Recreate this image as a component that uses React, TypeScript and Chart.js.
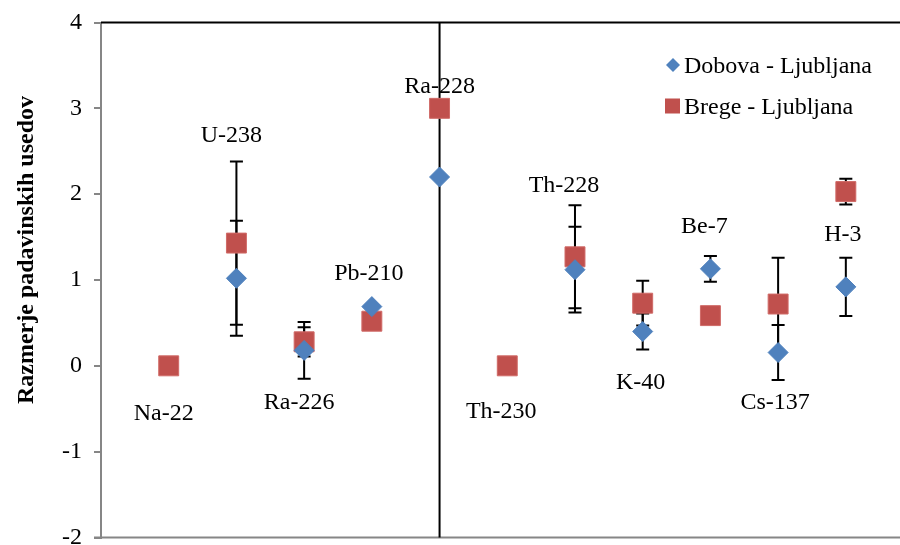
import React, { useEffect, useRef } from "react";
import { Chart, registerables } from "chart.js";

Chart.register(...registerables);

const categories = ["Na-22", "U-238", "Ra-226", "Pb-210", "Ra-228", "Th-230", "Th-228", "K-40", "Be-7", "Cs-137", "H-3"];
const dobova: (number | null)[] = [null, 1.02, 0.18, 0.69, 2.2, null, 1.12, 0.4, 1.13, 0.155, 0.92];
const dobovaErr: (number | null)[] = [null, 0.67, 0.33, null, null, null, 0.5, 0.21, 0.15, 0.32, 0.34];
const brege: (number | null)[] = [0, 1.43, 0.28, 0.52, 3.0, 0, 1.27, 0.73, 0.585, 0.72, 2.03];
const bregeErr: (number | null)[] = [null, 0.95, 0.17, null, null, null, 0.6, 0.26, null, 0.54, 0.15];
// annotation anchors for category labels (value units on y, pixel nudge on x)
const labelY = [-0.54, 2.7, -0.41, 1.09, 3.27, -0.51, 2.12, -0.18, 1.64, -0.41, 1.55];
const labelDx = [-5, -5, -5, -3, 0, -6, -11, -2, -6, -3, -3];
const yTicks = [-2, -1, 0, 1, 2, 3, 4];
const dividerX = 5;

const BLUE = "#4F81BD";
const RED = "#C0504D";
const FONT = "'Liberation Serif', 'Times New Roman', serif";

export default function App() {
  const ref = useRef<HTMLCanvasElement | null>(null);

  useEffect(() => {
    if (!ref.current) return;
    const toPts = (arr: (number | null)[]) =>
      arr
        .map((v, i) => (v == null ? null : { x: i + 1, y: v }))
        .filter((p) => p !== null) as { x: number; y: number }[];

    const custom = {
      id: "custom",
      beforeDatasetsDraw(chart: any) {
        const { ctx, chartArea } = chart;
        const xs = chart.scales.x;
        const ys = chart.scales.y;
        ctx.save();
        // top black border
        ctx.strokeStyle = "#000";
        ctx.lineWidth = 2;
        ctx.beginPath();
        ctx.moveTo(chartArea.left, chartArea.top);
        ctx.lineTo(chartArea.right, chartArea.top);
        ctx.stroke();
        // bottom gray line
        ctx.strokeStyle = "#868686";
        ctx.beginPath();
        ctx.moveTo(chartArea.left - 7, chartArea.bottom);
        ctx.lineTo(chartArea.right, chartArea.bottom);
        ctx.stroke();
        // vertical divider
        const dx = xs.getPixelForValue(dividerX);
        ctx.strokeStyle = "#000";
        ctx.beginPath();
        ctx.moveTo(dx, chartArea.top);
        ctx.lineTo(dx, chartArea.bottom);
        ctx.stroke();
        // error bars
        const drawErr = (vals: (number | null)[], errs: (number | null)[]) => {
          vals.forEach((v, i) => {
            const e = errs[i];
            if (v == null || e == null) return;
            const px = xs.getPixelForValue(i + 1);
            const top = ys.getPixelForValue(v + e);
            const bot = ys.getPixelForValue(v - e);
            ctx.beginPath();
            ctx.moveTo(px, top);
            ctx.lineTo(px, bot);
            ctx.moveTo(px - 6.5, top);
            ctx.lineTo(px + 6.5, top);
            ctx.moveTo(px - 6.5, bot);
            ctx.lineTo(px + 6.5, bot);
            ctx.stroke();
          });
        };
        ctx.strokeStyle = "#000";
        ctx.lineWidth = 2;
        drawErr(dobova, dobovaErr);
        drawErr(brege, bregeErr);
        ctx.restore();
      },
      afterDatasetsDraw(chart: any) {
        const { ctx } = chart;
        const xs = chart.scales.x;
        const ys = chart.scales.y;
        ctx.save();
        ctx.fillStyle = "#000";
        ctx.font = `24px ${FONT}`;
        ctx.textAlign = "center";
        ctx.textBaseline = "alphabetic";
        categories.forEach((c, i) => {
          const px = xs.getPixelForValue(i + 1) + labelDx[i];
          const py = ys.getPixelForValue(labelY[i]) + 8;
          ctx.fillText(c, px, py);
        });
        // legend
        ctx.textAlign = "left";
        ctx.fillStyle = BLUE;
        ctx.beginPath();
        ctx.moveTo(673 - 7, 65);
        ctx.lineTo(673, 58);
        ctx.lineTo(673 + 7, 65);
        ctx.lineTo(673, 72);
        ctx.closePath();
        ctx.fill();
        ctx.fillStyle = RED;
        ctx.fillRect(665, 98.5, 15, 15);
        ctx.fillStyle = "#000";
        ctx.fillText("Dobova - Ljubljana", 684, 73);
        ctx.fillText("Brege - Ljubljana", 684, 114);
        // y title
        ctx.save();
        ctx.translate(33, 250);
        ctx.rotate(-Math.PI / 2);
        ctx.textAlign = "center";
        ctx.font = `bold 24px ${FONT}`;
        ctx.fillText("Razmerje padavinskih usedov", 0, 0);
        ctx.restore();
        ctx.restore();
      },
    };

    const chart = new Chart(ref.current, {
      type: "scatter",
      data: {
        datasets: [
          {
            label: "Dobova - Ljubljana",
            data: toPts(dobova),
            pointStyle: "rectRot",
            pointRadius: 10,
            pointHoverRadius: 10,
            backgroundColor: BLUE,
            borderColor: BLUE,
            borderWidth: 1,
          },
          {
            label: "Brege - Ljubljana",
            data: toPts(brege),
            pointStyle: "rect",
            pointRadius: 14.1,
            pointHoverRadius: 14.1,
            backgroundColor: RED,
            borderColor: "#D06A67",
            borderWidth: 1,
          },
        ],
      },
      options: {
        animation: false,
        responsive: false,
        devicePixelRatio: 1,
        layout: { autoPadding: false, padding: { top: 22.5, bottom: 7.5, left: 0, right: 0 } },
        plugins: { legend: { display: false }, tooltip: { enabled: false } },
        scales: {
          x: { type: "linear", min: 0, max: 11.8, display: false },
          y: {
            min: -2,
            max: 4,
            afterBuildTicks: (s: any) => {
              s.ticks = yTicks.map((v) => ({ value: v }));
            },
            ticks: {
              font: { family: FONT, size: 24 },
              color: "#000",
              padding: 12,
            },
            grid: {
              drawOnChartArea: false,
              drawTicks: true,
              tickLength: 7,
              color: "#868686",
              lineWidth: 2,
            },
            border: { display: true, color: "#868686", width: 2 },
            afterFit: (s: any) => {
              s.width = 101;
              s.paddingTop = 0;
              s.paddingBottom = 0;
            },
          },
        },
      },
      plugins: [custom],
    } as any);
    return () => chart.destroy();
  }, []);

  return (
    <div style={{ position: "absolute", left: 0, top: 0, width: 900, height: 545 }}>
      <canvas ref={ref} width={900} height={545} style={{ display: "block" }} />
    </div>
  );
}
